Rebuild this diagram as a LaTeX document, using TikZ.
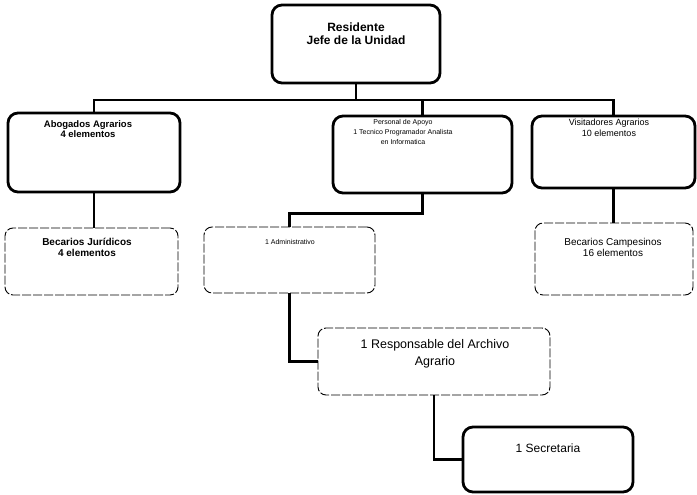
\documentclass[tikz,border=0pt]{standalone}
\usepackage{fontspec}
\setmainfont{Liberation Sans}
\begin{document}
\begin{tikzpicture}[x=1pt,y=-1pt,
  boxthick/.style={draw, line width=2.8pt, rounded corners=10pt, inner sep=0pt},
  boxthin/.style={draw, line width=0.9pt, dash pattern=on 9pt off 2pt, rounded corners=8pt, inner sep=0pt},
  conn/.style={line width=2.8pt},
  lbl/.style={align=center, inner sep=0pt}]
\useasboundingbox (0,0) rectangle (697,495);

% boxes
\node[boxthick, minimum width=168pt, minimum height=78pt] (top) at (356,44) {};
\node[boxthick, minimum width=172pt, minimum height=79pt] (ab) at (94,152.5) {};
\node[boxthick, minimum width=179pt, minimum height=77pt] (pers) at (422.5,154.5) {};
\node[boxthick, minimum width=163pt, minimum height=72pt] (vis) at (613.5,152) {};
\node[boxthin, minimum width=173pt, minimum height=67pt] (jur) at (91.5,261.5) {};
\node[boxthin, minimum width=171pt, minimum height=66pt] (adm) at (289.5,260) {};
\node[boxthin, minimum width=158pt, minimum height=72pt] (camp) at (614,259) {};
\node[boxthin, minimum width=232pt, minimum height=67pt] (resp) at (434,361.5) {};
\node[boxthick, minimum width=170pt, minimum height=65pt] (sec) at (548,459.5) {};

% texts
\node[lbl, font=\fontsize{12}{13}\selectfont\bfseries] (topT) at (356,33.5) {Residente\\Jefe de la Unidad};
\node[lbl, font=\fontsize{9.5}{10.5}\selectfont\bfseries] (abT) at (88,129) {Abogados Agrarios\\4 elementos};
\node[lbl, font=\fontsize{7}{10}\selectfont] (persT) at (403,132) {Personal de Apoyo\\1 Tecnico Programador Analista\\en Informatica};
\node[lbl, font=\fontsize{9}{11}\selectfont] (visT) at (609,127.5) {Visitadores Agrarios\\10 elementos};
\node[lbl, font=\fontsize{10}{11}\selectfont\bfseries] (jurT) at (87,247) {Becarios Jurídicos\\4 elementos};
\node[lbl, font=\fontsize{7}{10}\selectfont] (admT) at (290,242) {1 Administrativo};
\node[lbl, font=\fontsize{10}{11}\selectfont] (campT) at (613,247.5) {Becarios Campesinos\\16 elementos};
\node[lbl, font=\fontsize{12.5}{17}\selectfont] (respT) at (435,353.5) {1 Responsable del Archivo\\Agrario};
\node[lbl, font=\fontsize{12}{13}\selectfont] (secT) at (548,448) {1 Secretaria};

% connectors
\coordinate (bus) at (0,100);
\draw[conn] (top.south) -- (top.south |- bus);
\draw[conn] (ab.north) -- (ab.north |- bus) -- (vis.north |- bus) -- (vis.north);
\draw[conn] (pers.north) -- (pers.north |- bus);
\draw[conn] (ab.south) -- (jur.north -| ab.south);
\draw[conn] (vis.south) -- (camp.north -| vis.south);
\draw[conn] (pers.south) -- ++(0,19) -| (adm.north);
\draw[conn] (adm.south) |- (resp.west);
\draw[conn] (resp.south) |- (sec.west);
\end{tikzpicture}
\end{document}
